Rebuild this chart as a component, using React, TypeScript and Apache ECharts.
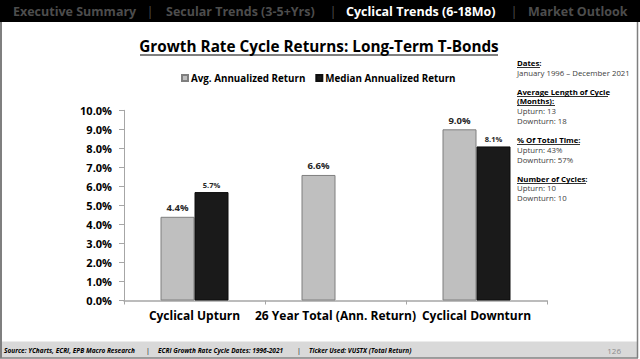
import React, { useEffect, useRef } from "react";
import * as echarts from "echarts";

const categories = ["Cyclical Upturn", "26 Year Total (Ann. Return)", "Cyclical Downturn"];
const avgReturn = [4.4, 6.6, 9.0];
const medianReturn: (number | null)[] = [5.7, null, 8.1];
const seriesNames = ["Avg. Annualized Return", "Median Annualized Return"];
const navItems = ["Executive Summary", "Secular Trends (3-5+Yrs)", "Cyclical Trends (6-18Mo)", "Market Outlook"];
const activeNav = 2;
const title = "Growth Rate Cycle Returns: Long-Term T-Bonds";
const sidePanel: { text: string; head: boolean }[] = [
  { text: "Dates:", head: true },
  { text: "January 1996 – December 2021", head: false },
  { text: "Average Length of Cycle", head: true },
  { text: "(Months):", head: true },
  { text: "Upturn: 13", head: false },
  { text: "Downturn: 18", head: false },
  { text: "% Of Total Time:", head: true },
  { text: "Upturn: 43%", head: false },
  { text: "Downturn: 57%", head: false },
  { text: "Number of Cycles:", head: true },
  { text: "Upturn: 10", head: false },
  { text: "Downturn: 10", head: false },
];
const footerItems = [
  "Source: YCharts, ECRI, EPB Macro Research",
  "ECRI Growth Rate Cycle Dates: 1996-2021",
  "Ticker Used: VUSTX (Total Return)",
];
const pageNumber = "126";

const FONT = "'Open Sans', 'Noto Sans', sans-serif";

export default function App() {
  const ref = useRef<HTMLDivElement>(null);
  useEffect(() => {
    document.body.style.margin = "0";
    const chart = echarts.init(ref.current!, null, { renderer: "svg" });

    const navX = [13, 166, 346, 528];
    const sepX = [150, 333, 514];
    const sideY = [63, 73, 92, 101, 111, 121, 140, 150, 160, 179, 188, 198];
    const sideUnderline = [540, 0, 608, 555, 0, 0, 580, 0, 0, 586, 0, 0];
    const footerX = [4, 158, 309];
    const footerSep = [148, 299];

    const graphics: any[] = [
      { type: "rect", shape: { x: 0, y: 0, width: 640, height: 22 }, style: { fill: "#000" } },
      { type: "rect", shape: { x: 1, y: 341.5, width: 636, height: 16 }, style: { fill: "#d9d9d9" } },
      { type: "line", shape: { x1: 1, y1: 22, x2: 1, y2: 358 }, style: { stroke: "#7f7f7f", lineWidth: 2 } },
      { type: "line", shape: { x1: 637.5, y1: 22, x2: 637.5, y2: 358 }, style: { stroke: "#7f7f7f", lineWidth: 1.5 } },
      { type: "line", shape: { x1: 0, y1: 358, x2: 638, y2: 358 }, style: { stroke: "#7f7f7f", lineWidth: 1.5 } },
    ];
    navItems.forEach((t, i) => {
      graphics.push({
        type: "text", x: navX[i], y: 11,
        style: { text: t, fill: i === activeNav ? "#ffffff" : "#4d4d4d", font: `bold 12.5px ${FONT}`, verticalAlign: "middle" },
      });
    });
    sepX.forEach((x) => {
      graphics.push({ type: "text", x, y: 11, style: { text: "|", fill: "#4d4d4d", font: `13px ${FONT}`, verticalAlign: "middle", align: "center" } });
    });
    graphics.push({
      type: "text", x: 319, y: 46,
      style: { text: title, fill: "#000", font: `bold 15.3px ${FONT}`, align: "center", verticalAlign: "middle" },
    });
    graphics.push({ type: "line", shape: { x1: 140, y1: 55, x2: 498, y2: 55 }, style: { stroke: "#000", lineWidth: 1 } });
    sidePanel.forEach((s, i) => {
      graphics.push({
        type: "text", x: 517, y: sideY[i],
        style: { text: s.text, fill: s.head ? "#000" : "#404040", font: `${s.head ? "bold " : ""}7.8px ${FONT}`, verticalAlign: "middle" },
      });
      if (sideUnderline[i]) {
        graphics.push({ type: "line", shape: { x1: 517, y1: sideY[i] + 4.5, x2: sideUnderline[i], y2: sideY[i] + 4.5 }, style: { stroke: "#000", lineWidth: 0.8 } });
      }
    });
    footerItems.forEach((t, i) => {
      graphics.push({
        type: "text", x: footerX[i], y: 350,
        style: { text: t, fill: "#000", font: `italic bold 6.5px ${FONT}`, verticalAlign: "middle" },
      });
    });
    footerSep.forEach((x) => {
      graphics.push({ type: "text", x, y: 350, style: { text: "|", fill: "#000", font: `7px ${FONT}`, verticalAlign: "middle", align: "center" } });
    });
    graphics.push({ type: "text", x: 621, y: 350, style: { text: pageNumber, fill: "#8c8c8c", font: `8px ${FONT}`, verticalAlign: "middle", align: "right" } });

    chart.setOption({
      animation: false,
      textStyle: { fontFamily: FONT },
      graphic: graphics,
      legend: {
        top: 68,
        left: 176,
        itemWidth: 6,
        itemHeight: 6,
        itemGap: 10,
        icon: "rect",
        textStyle: { fontWeight: "bold", fontSize: 9.8, color: "#000", padding: [0, 0, 0, -2] },
        data: seriesNames,
      },
      grid: { left: 124, right: 93, top: 110.3, bottom: 58.5, containLabel: false },
      xAxis: {
        type: "category",
        data: categories,
        axisLine: { lineStyle: { color: "#a6a6a6", width: 1.5 } },
        axisTick: { show: true, length: 4, lineStyle: { color: "#a6a6a6" } },
        axisLabel: { fontWeight: "bold", fontSize: 12, color: "#000", margin: 9, interval: 0 },
      },
      yAxis: {
        type: "value",
        min: 0,
        max: 10,
        interval: 1,
        axisLine: { show: true, lineStyle: { color: "#a6a6a6", width: 1 } },
        axisTick: { show: true, length: 5, lineStyle: { color: "#a6a6a6" } },
        splitLine: { show: false },
        axisLabel: { fontWeight: "bold", fontSize: 11, color: "#000", margin: 12, formatter: (v: number) => `${v.toFixed(1)}%` },
      },
      series: [
        {
          name: seriesNames[0],
          type: "bar",
          data: avgReturn,
          barWidth: 34,
          barGap: "0%",
          itemStyle: { color: "#bfbfbf", borderColor: "#7f7f7f", borderWidth: 1 },
          label: { show: true, position: "top", distance: 4, fontWeight: "bold", fontSize: 9.5, color: "#262626", formatter: (p: any) => `${p.value.toFixed(1)}%` },
        },
        {
          name: seriesNames[1],
          type: "bar",
          data: medianReturn,
          barWidth: 34,
          barGap: "0%",
          itemStyle: { color: "#1a1a1a", borderColor: "#0d0d0d", borderWidth: 1 },
          label: { show: true, position: "top", distance: 3, fontWeight: "bold", fontSize: 7.5, color: "#262626", formatter: (p: any) => `${p.value.toFixed(1)}%` },
        },
      ],
    });
    return () => chart.dispose();
  }, []);
  return <div ref={ref} style={{ width: 640, height: 359 }} />;
}
